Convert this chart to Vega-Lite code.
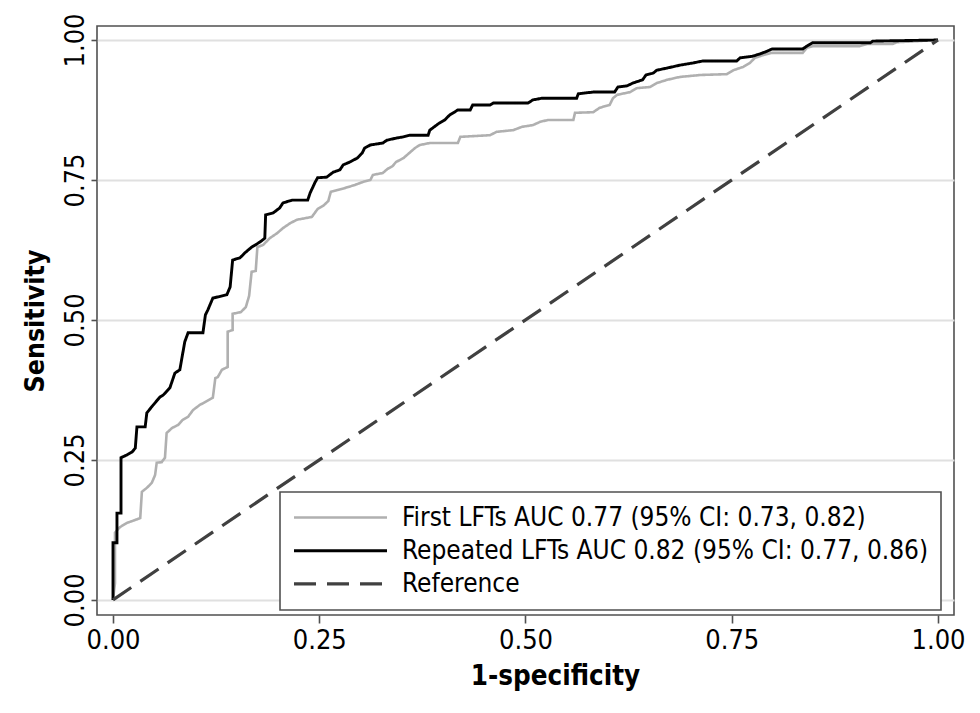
{
  "$schema": "https://vega.github.io/schema/vega-lite/v6.json",
  "width": 857,
  "height": 589,
  "autosize": {"type": "none"},
  "padding": {"left": 97, "top": 26, "right": 26, "bottom": 98},
  "background": "white",
  "config": {
    "view": {"stroke": "#505050", "strokeWidth": 1.6},
    "font": "DejaVu Sans Condensed",
    "axis": {
      "domain": false,
      "labelFont": "DejaVu Sans Condensed",
      "labelFontSize": 27,
      "labelColor": "#000000",
      "titleFont": "DejaVu Sans Condensed",
      "titleFontWeight": "bold",
      "titleColor": "#000000",
      "tickColor": "#505050",
      "tickWidth": 1.6
    }
  },
  "data": {
    "values": [
      {"series": "First LFTs AUC 0.77 (95% CI: 0.73, 0.82)", "x": 0, "y": 0},
      {"series": "First LFTs AUC 0.77 (95% CI: 0.73, 0.82)", "x": 0.0024, "y": 0.03},
      {"series": "First LFTs AUC 0.77 (95% CI: 0.73, 0.82)", "x": 0.0024, "y": 0.12},
      {"series": "First LFTs AUC 0.77 (95% CI: 0.73, 0.82)", "x": 0.0085, "y": 0.13},
      {"series": "First LFTs AUC 0.77 (95% CI: 0.73, 0.82)", "x": 0.017, "y": 0.1375},
      {"series": "First LFTs AUC 0.77 (95% CI: 0.73, 0.82)", "x": 0.033, "y": 0.146},
      {"series": "First LFTs AUC 0.77 (95% CI: 0.73, 0.82)", "x": 0.035, "y": 0.193},
      {"series": "First LFTs AUC 0.77 (95% CI: 0.73, 0.82)", "x": 0.041, "y": 0.2},
      {"series": "First LFTs AUC 0.77 (95% CI: 0.73, 0.82)", "x": 0.047, "y": 0.209},
      {"series": "First LFTs AUC 0.77 (95% CI: 0.73, 0.82)", "x": 0.051, "y": 0.223},
      {"series": "First LFTs AUC 0.77 (95% CI: 0.73, 0.82)", "x": 0.053, "y": 0.245},
      {"series": "First LFTs AUC 0.77 (95% CI: 0.73, 0.82)", "x": 0.059, "y": 0.246},
      {"series": "First LFTs AUC 0.77 (95% CI: 0.73, 0.82)", "x": 0.063, "y": 0.254},
      {"series": "First LFTs AUC 0.77 (95% CI: 0.73, 0.82)", "x": 0.065, "y": 0.298},
      {"series": "First LFTs AUC 0.77 (95% CI: 0.73, 0.82)", "x": 0.0715, "y": 0.307},
      {"series": "First LFTs AUC 0.77 (95% CI: 0.73, 0.82)", "x": 0.079, "y": 0.3125},
      {"series": "First LFTs AUC 0.77 (95% CI: 0.73, 0.82)", "x": 0.084, "y": 0.321},
      {"series": "First LFTs AUC 0.77 (95% CI: 0.73, 0.82)", "x": 0.091, "y": 0.327},
      {"series": "First LFTs AUC 0.77 (95% CI: 0.73, 0.82)", "x": 0.097, "y": 0.339},
      {"series": "First LFTs AUC 0.77 (95% CI: 0.73, 0.82)", "x": 0.105, "y": 0.348},
      {"series": "First LFTs AUC 0.77 (95% CI: 0.73, 0.82)", "x": 0.121, "y": 0.361},
      {"series": "First LFTs AUC 0.77 (95% CI: 0.73, 0.82)", "x": 0.124, "y": 0.396},
      {"series": "First LFTs AUC 0.77 (95% CI: 0.73, 0.82)", "x": 0.127, "y": 0.398},
      {"series": "First LFTs AUC 0.77 (95% CI: 0.73, 0.82)", "x": 0.132, "y": 0.411},
      {"series": "First LFTs AUC 0.77 (95% CI: 0.73, 0.82)", "x": 0.139, "y": 0.416},
      {"series": "First LFTs AUC 0.77 (95% CI: 0.73, 0.82)", "x": 0.139, "y": 0.479},
      {"series": "First LFTs AUC 0.77 (95% CI: 0.73, 0.82)", "x": 0.145, "y": 0.482},
      {"series": "First LFTs AUC 0.77 (95% CI: 0.73, 0.82)", "x": 0.145, "y": 0.511},
      {"series": "First LFTs AUC 0.77 (95% CI: 0.73, 0.82)", "x": 0.155, "y": 0.514},
      {"series": "First LFTs AUC 0.77 (95% CI: 0.73, 0.82)", "x": 0.161, "y": 0.523},
      {"series": "First LFTs AUC 0.77 (95% CI: 0.73, 0.82)", "x": 0.165, "y": 0.543},
      {"series": "First LFTs AUC 0.77 (95% CI: 0.73, 0.82)", "x": 0.168, "y": 0.586},
      {"series": "First LFTs AUC 0.77 (95% CI: 0.73, 0.82)", "x": 0.173, "y": 0.5875},
      {"series": "First LFTs AUC 0.77 (95% CI: 0.73, 0.82)", "x": 0.175, "y": 0.63},
      {"series": "First LFTs AUC 0.77 (95% CI: 0.73, 0.82)", "x": 0.182, "y": 0.634},
      {"series": "First LFTs AUC 0.77 (95% CI: 0.73, 0.82)", "x": 0.19, "y": 0.646},
      {"series": "First LFTs AUC 0.77 (95% CI: 0.73, 0.82)", "x": 0.199, "y": 0.655},
      {"series": "First LFTs AUC 0.77 (95% CI: 0.73, 0.82)", "x": 0.206, "y": 0.664},
      {"series": "First LFTs AUC 0.77 (95% CI: 0.73, 0.82)", "x": 0.215, "y": 0.673},
      {"series": "First LFTs AUC 0.77 (95% CI: 0.73, 0.82)", "x": 0.223, "y": 0.679},
      {"series": "First LFTs AUC 0.77 (95% CI: 0.73, 0.82)", "x": 0.241, "y": 0.684},
      {"series": "First LFTs AUC 0.77 (95% CI: 0.73, 0.82)", "x": 0.248, "y": 0.698},
      {"series": "First LFTs AUC 0.77 (95% CI: 0.73, 0.82)", "x": 0.255, "y": 0.704},
      {"series": "First LFTs AUC 0.77 (95% CI: 0.73, 0.82)", "x": 0.261, "y": 0.7125},
      {"series": "First LFTs AUC 0.77 (95% CI: 0.73, 0.82)", "x": 0.264, "y": 0.729},
      {"series": "First LFTs AUC 0.77 (95% CI: 0.73, 0.82)", "x": 0.272, "y": 0.732},
      {"series": "First LFTs AUC 0.77 (95% CI: 0.73, 0.82)", "x": 0.282, "y": 0.736},
      {"series": "First LFTs AUC 0.77 (95% CI: 0.73, 0.82)", "x": 0.293, "y": 0.741},
      {"series": "First LFTs AUC 0.77 (95% CI: 0.73, 0.82)", "x": 0.302, "y": 0.746},
      {"series": "First LFTs AUC 0.77 (95% CI: 0.73, 0.82)", "x": 0.312, "y": 0.75},
      {"series": "First LFTs AUC 0.77 (95% CI: 0.73, 0.82)", "x": 0.315, "y": 0.759},
      {"series": "First LFTs AUC 0.77 (95% CI: 0.73, 0.82)", "x": 0.327, "y": 0.7625},
      {"series": "First LFTs AUC 0.77 (95% CI: 0.73, 0.82)", "x": 0.333, "y": 0.77},
      {"series": "First LFTs AUC 0.77 (95% CI: 0.73, 0.82)", "x": 0.339, "y": 0.775},
      {"series": "First LFTs AUC 0.77 (95% CI: 0.73, 0.82)", "x": 0.343, "y": 0.782},
      {"series": "First LFTs AUC 0.77 (95% CI: 0.73, 0.82)", "x": 0.352, "y": 0.789},
      {"series": "First LFTs AUC 0.77 (95% CI: 0.73, 0.82)", "x": 0.359, "y": 0.798},
      {"series": "First LFTs AUC 0.77 (95% CI: 0.73, 0.82)", "x": 0.366, "y": 0.807},
      {"series": "First LFTs AUC 0.77 (95% CI: 0.73, 0.82)", "x": 0.372, "y": 0.8125},
      {"series": "First LFTs AUC 0.77 (95% CI: 0.73, 0.82)", "x": 0.384, "y": 0.816},
      {"series": "First LFTs AUC 0.77 (95% CI: 0.73, 0.82)", "x": 0.418, "y": 0.816},
      {"series": "First LFTs AUC 0.77 (95% CI: 0.73, 0.82)", "x": 0.421, "y": 0.827},
      {"series": "First LFTs AUC 0.77 (95% CI: 0.73, 0.82)", "x": 0.457, "y": 0.83},
      {"series": "First LFTs AUC 0.77 (95% CI: 0.73, 0.82)", "x": 0.465, "y": 0.836},
      {"series": "First LFTs AUC 0.77 (95% CI: 0.73, 0.82)", "x": 0.485, "y": 0.839},
      {"series": "First LFTs AUC 0.77 (95% CI: 0.73, 0.82)", "x": 0.496, "y": 0.845},
      {"series": "First LFTs AUC 0.77 (95% CI: 0.73, 0.82)", "x": 0.509, "y": 0.848},
      {"series": "First LFTs AUC 0.77 (95% CI: 0.73, 0.82)", "x": 0.518, "y": 0.854},
      {"series": "First LFTs AUC 0.77 (95% CI: 0.73, 0.82)", "x": 0.527, "y": 0.857},
      {"series": "First LFTs AUC 0.77 (95% CI: 0.73, 0.82)", "x": 0.558, "y": 0.857},
      {"series": "First LFTs AUC 0.77 (95% CI: 0.73, 0.82)", "x": 0.56, "y": 0.87},
      {"series": "First LFTs AUC 0.77 (95% CI: 0.73, 0.82)", "x": 0.582, "y": 0.871},
      {"series": "First LFTs AUC 0.77 (95% CI: 0.73, 0.82)", "x": 0.59, "y": 0.879},
      {"series": "First LFTs AUC 0.77 (95% CI: 0.73, 0.82)", "x": 0.602, "y": 0.884},
      {"series": "First LFTs AUC 0.77 (95% CI: 0.73, 0.82)", "x": 0.606, "y": 0.896},
      {"series": "First LFTs AUC 0.77 (95% CI: 0.73, 0.82)", "x": 0.611, "y": 0.902},
      {"series": "First LFTs AUC 0.77 (95% CI: 0.73, 0.82)", "x": 0.627, "y": 0.907},
      {"series": "First LFTs AUC 0.77 (95% CI: 0.73, 0.82)", "x": 0.635, "y": 0.914},
      {"series": "First LFTs AUC 0.77 (95% CI: 0.73, 0.82)", "x": 0.651, "y": 0.916},
      {"series": "First LFTs AUC 0.77 (95% CI: 0.73, 0.82)", "x": 0.659, "y": 0.923},
      {"series": "First LFTs AUC 0.77 (95% CI: 0.73, 0.82)", "x": 0.672, "y": 0.929},
      {"series": "First LFTs AUC 0.77 (95% CI: 0.73, 0.82)", "x": 0.687, "y": 0.934},
      {"series": "First LFTs AUC 0.77 (95% CI: 0.73, 0.82)", "x": 0.712, "y": 0.9375},
      {"series": "First LFTs AUC 0.77 (95% CI: 0.73, 0.82)", "x": 0.744, "y": 0.939},
      {"series": "First LFTs AUC 0.77 (95% CI: 0.73, 0.82)", "x": 0.752, "y": 0.946},
      {"series": "First LFTs AUC 0.77 (95% CI: 0.73, 0.82)", "x": 0.764, "y": 0.952},
      {"series": "First LFTs AUC 0.77 (95% CI: 0.73, 0.82)", "x": 0.772, "y": 0.959},
      {"series": "First LFTs AUC 0.77 (95% CI: 0.73, 0.82)", "x": 0.778, "y": 0.968},
      {"series": "First LFTs AUC 0.77 (95% CI: 0.73, 0.82)", "x": 0.788, "y": 0.973},
      {"series": "First LFTs AUC 0.77 (95% CI: 0.73, 0.82)", "x": 0.799, "y": 0.977},
      {"series": "First LFTs AUC 0.77 (95% CI: 0.73, 0.82)", "x": 0.836, "y": 0.977},
      {"series": "First LFTs AUC 0.77 (95% CI: 0.73, 0.82)", "x": 0.841, "y": 0.986},
      {"series": "First LFTs AUC 0.77 (95% CI: 0.73, 0.82)", "x": 0.848, "y": 0.989},
      {"series": "First LFTs AUC 0.77 (95% CI: 0.73, 0.82)", "x": 0.905, "y": 0.989},
      {"series": "First LFTs AUC 0.77 (95% CI: 0.73, 0.82)", "x": 0.914, "y": 0.993},
      {"series": "First LFTs AUC 0.77 (95% CI: 0.73, 0.82)", "x": 0.945, "y": 0.993},
      {"series": "First LFTs AUC 0.77 (95% CI: 0.73, 0.82)", "x": 0.95, "y": 0.996},
      {"series": "First LFTs AUC 0.77 (95% CI: 0.73, 0.82)", "x": 1, "y": 1},
      {"series": "Repeated LFTs AUC 0.82 (95% CI: 0.77, 0.86)", "x": 0, "y": 0},
      {"series": "Repeated LFTs AUC 0.82 (95% CI: 0.77, 0.86)", "x": 0, "y": 0.102},
      {"series": "Repeated LFTs AUC 0.82 (95% CI: 0.77, 0.86)", "x": 0.0048, "y": 0.102},
      {"series": "Repeated LFTs AUC 0.82 (95% CI: 0.77, 0.86)", "x": 0.0048, "y": 0.155},
      {"series": "Repeated LFTs AUC 0.82 (95% CI: 0.77, 0.86)", "x": 0.0097, "y": 0.155},
      {"series": "Repeated LFTs AUC 0.82 (95% CI: 0.77, 0.86)", "x": 0.0097, "y": 0.254},
      {"series": "Repeated LFTs AUC 0.82 (95% CI: 0.77, 0.86)", "x": 0.017, "y": 0.259},
      {"series": "Repeated LFTs AUC 0.82 (95% CI: 0.77, 0.86)", "x": 0.023, "y": 0.264},
      {"series": "Repeated LFTs AUC 0.82 (95% CI: 0.77, 0.86)", "x": 0.027, "y": 0.271},
      {"series": "Repeated LFTs AUC 0.82 (95% CI: 0.77, 0.86)", "x": 0.029, "y": 0.309},
      {"series": "Repeated LFTs AUC 0.82 (95% CI: 0.77, 0.86)", "x": 0.039, "y": 0.309},
      {"series": "Repeated LFTs AUC 0.82 (95% CI: 0.77, 0.86)", "x": 0.041, "y": 0.334},
      {"series": "Repeated LFTs AUC 0.82 (95% CI: 0.77, 0.86)", "x": 0.047, "y": 0.345},
      {"series": "Repeated LFTs AUC 0.82 (95% CI: 0.77, 0.86)", "x": 0.057, "y": 0.3625},
      {"series": "Repeated LFTs AUC 0.82 (95% CI: 0.77, 0.86)", "x": 0.061, "y": 0.366},
      {"series": "Repeated LFTs AUC 0.82 (95% CI: 0.77, 0.86)", "x": 0.069, "y": 0.379},
      {"series": "Repeated LFTs AUC 0.82 (95% CI: 0.77, 0.86)", "x": 0.075, "y": 0.405},
      {"series": "Repeated LFTs AUC 0.82 (95% CI: 0.77, 0.86)", "x": 0.081, "y": 0.411},
      {"series": "Repeated LFTs AUC 0.82 (95% CI: 0.77, 0.86)", "x": 0.087, "y": 0.461},
      {"series": "Repeated LFTs AUC 0.82 (95% CI: 0.77, 0.86)", "x": 0.091, "y": 0.477},
      {"series": "Repeated LFTs AUC 0.82 (95% CI: 0.77, 0.86)", "x": 0.109, "y": 0.477},
      {"series": "Repeated LFTs AUC 0.82 (95% CI: 0.77, 0.86)", "x": 0.112, "y": 0.509},
      {"series": "Repeated LFTs AUC 0.82 (95% CI: 0.77, 0.86)", "x": 0.115, "y": 0.518},
      {"series": "Repeated LFTs AUC 0.82 (95% CI: 0.77, 0.86)", "x": 0.121, "y": 0.539},
      {"series": "Repeated LFTs AUC 0.82 (95% CI: 0.77, 0.86)", "x": 0.138, "y": 0.545},
      {"series": "Repeated LFTs AUC 0.82 (95% CI: 0.77, 0.86)", "x": 0.142, "y": 0.559},
      {"series": "Repeated LFTs AUC 0.82 (95% CI: 0.77, 0.86)", "x": 0.145, "y": 0.607},
      {"series": "Repeated LFTs AUC 0.82 (95% CI: 0.77, 0.86)", "x": 0.154, "y": 0.611},
      {"series": "Repeated LFTs AUC 0.82 (95% CI: 0.77, 0.86)", "x": 0.16, "y": 0.62},
      {"series": "Repeated LFTs AUC 0.82 (95% CI: 0.77, 0.86)", "x": 0.168, "y": 0.63},
      {"series": "Repeated LFTs AUC 0.82 (95% CI: 0.77, 0.86)", "x": 0.178, "y": 0.639},
      {"series": "Repeated LFTs AUC 0.82 (95% CI: 0.77, 0.86)", "x": 0.184, "y": 0.646},
      {"series": "Repeated LFTs AUC 0.82 (95% CI: 0.77, 0.86)", "x": 0.185, "y": 0.6875},
      {"series": "Repeated LFTs AUC 0.82 (95% CI: 0.77, 0.86)", "x": 0.194, "y": 0.691},
      {"series": "Repeated LFTs AUC 0.82 (95% CI: 0.77, 0.86)", "x": 0.202, "y": 0.7},
      {"series": "Repeated LFTs AUC 0.82 (95% CI: 0.77, 0.86)", "x": 0.206, "y": 0.709},
      {"series": "Repeated LFTs AUC 0.82 (95% CI: 0.77, 0.86)", "x": 0.217, "y": 0.714},
      {"series": "Repeated LFTs AUC 0.82 (95% CI: 0.77, 0.86)", "x": 0.236, "y": 0.714},
      {"series": "Repeated LFTs AUC 0.82 (95% CI: 0.77, 0.86)", "x": 0.239, "y": 0.727},
      {"series": "Repeated LFTs AUC 0.82 (95% CI: 0.77, 0.86)", "x": 0.245, "y": 0.746},
      {"series": "Repeated LFTs AUC 0.82 (95% CI: 0.77, 0.86)", "x": 0.248, "y": 0.754},
      {"series": "Repeated LFTs AUC 0.82 (95% CI: 0.77, 0.86)", "x": 0.259, "y": 0.755},
      {"series": "Repeated LFTs AUC 0.82 (95% CI: 0.77, 0.86)", "x": 0.267, "y": 0.764},
      {"series": "Repeated LFTs AUC 0.82 (95% CI: 0.77, 0.86)", "x": 0.275, "y": 0.768},
      {"series": "Repeated LFTs AUC 0.82 (95% CI: 0.77, 0.86)", "x": 0.279, "y": 0.777},
      {"series": "Repeated LFTs AUC 0.82 (95% CI: 0.77, 0.86)", "x": 0.287, "y": 0.782},
      {"series": "Repeated LFTs AUC 0.82 (95% CI: 0.77, 0.86)", "x": 0.296, "y": 0.789},
      {"series": "Repeated LFTs AUC 0.82 (95% CI: 0.77, 0.86)", "x": 0.302, "y": 0.798},
      {"series": "Repeated LFTs AUC 0.82 (95% CI: 0.77, 0.86)", "x": 0.305, "y": 0.807},
      {"series": "Repeated LFTs AUC 0.82 (95% CI: 0.77, 0.86)", "x": 0.312, "y": 0.8125},
      {"series": "Repeated LFTs AUC 0.82 (95% CI: 0.77, 0.86)", "x": 0.327, "y": 0.816},
      {"series": "Repeated LFTs AUC 0.82 (95% CI: 0.77, 0.86)", "x": 0.332, "y": 0.821},
      {"series": "Repeated LFTs AUC 0.82 (95% CI: 0.77, 0.86)", "x": 0.344, "y": 0.825},
      {"series": "Repeated LFTs AUC 0.82 (95% CI: 0.77, 0.86)", "x": 0.352, "y": 0.827},
      {"series": "Repeated LFTs AUC 0.82 (95% CI: 0.77, 0.86)", "x": 0.36, "y": 0.83},
      {"series": "Repeated LFTs AUC 0.82 (95% CI: 0.77, 0.86)", "x": 0.382, "y": 0.83},
      {"series": "Repeated LFTs AUC 0.82 (95% CI: 0.77, 0.86)", "x": 0.384, "y": 0.839},
      {"series": "Repeated LFTs AUC 0.82 (95% CI: 0.77, 0.86)", "x": 0.394, "y": 0.85},
      {"series": "Repeated LFTs AUC 0.82 (95% CI: 0.77, 0.86)", "x": 0.402, "y": 0.857},
      {"series": "Repeated LFTs AUC 0.82 (95% CI: 0.77, 0.86)", "x": 0.408, "y": 0.866},
      {"series": "Repeated LFTs AUC 0.82 (95% CI: 0.77, 0.86)", "x": 0.418, "y": 0.875},
      {"series": "Repeated LFTs AUC 0.82 (95% CI: 0.77, 0.86)", "x": 0.433, "y": 0.875},
      {"series": "Repeated LFTs AUC 0.82 (95% CI: 0.77, 0.86)", "x": 0.436, "y": 0.884},
      {"series": "Repeated LFTs AUC 0.82 (95% CI: 0.77, 0.86)", "x": 0.457, "y": 0.884},
      {"series": "Repeated LFTs AUC 0.82 (95% CI: 0.77, 0.86)", "x": 0.461, "y": 0.8875},
      {"series": "Repeated LFTs AUC 0.82 (95% CI: 0.77, 0.86)", "x": 0.503, "y": 0.8875},
      {"series": "Repeated LFTs AUC 0.82 (95% CI: 0.77, 0.86)", "x": 0.509, "y": 0.893},
      {"series": "Repeated LFTs AUC 0.82 (95% CI: 0.77, 0.86)", "x": 0.52, "y": 0.896},
      {"series": "Repeated LFTs AUC 0.82 (95% CI: 0.77, 0.86)", "x": 0.562, "y": 0.896},
      {"series": "Repeated LFTs AUC 0.82 (95% CI: 0.77, 0.86)", "x": 0.564, "y": 0.904},
      {"series": "Repeated LFTs AUC 0.82 (95% CI: 0.77, 0.86)", "x": 0.582, "y": 0.907},
      {"series": "Repeated LFTs AUC 0.82 (95% CI: 0.77, 0.86)", "x": 0.608, "y": 0.907},
      {"series": "Repeated LFTs AUC 0.82 (95% CI: 0.77, 0.86)", "x": 0.612, "y": 0.916},
      {"series": "Repeated LFTs AUC 0.82 (95% CI: 0.77, 0.86)", "x": 0.623, "y": 0.918},
      {"series": "Repeated LFTs AUC 0.82 (95% CI: 0.77, 0.86)", "x": 0.63, "y": 0.923},
      {"series": "Repeated LFTs AUC 0.82 (95% CI: 0.77, 0.86)", "x": 0.642, "y": 0.929},
      {"series": "Repeated LFTs AUC 0.82 (95% CI: 0.77, 0.86)", "x": 0.646, "y": 0.9375},
      {"series": "Repeated LFTs AUC 0.82 (95% CI: 0.77, 0.86)", "x": 0.655, "y": 0.941},
      {"series": "Repeated LFTs AUC 0.82 (95% CI: 0.77, 0.86)", "x": 0.659, "y": 0.946},
      {"series": "Repeated LFTs AUC 0.82 (95% CI: 0.77, 0.86)", "x": 0.672, "y": 0.95},
      {"series": "Repeated LFTs AUC 0.82 (95% CI: 0.77, 0.86)", "x": 0.687, "y": 0.955},
      {"series": "Repeated LFTs AUC 0.82 (95% CI: 0.77, 0.86)", "x": 0.703, "y": 0.959},
      {"series": "Repeated LFTs AUC 0.82 (95% CI: 0.77, 0.86)", "x": 0.715, "y": 0.9625},
      {"series": "Repeated LFTs AUC 0.82 (95% CI: 0.77, 0.86)", "x": 0.756, "y": 0.9625},
      {"series": "Repeated LFTs AUC 0.82 (95% CI: 0.77, 0.86)", "x": 0.76, "y": 0.968},
      {"series": "Repeated LFTs AUC 0.82 (95% CI: 0.77, 0.86)", "x": 0.775, "y": 0.971},
      {"series": "Repeated LFTs AUC 0.82 (95% CI: 0.77, 0.86)", "x": 0.784, "y": 0.975},
      {"series": "Repeated LFTs AUC 0.82 (95% CI: 0.77, 0.86)", "x": 0.793, "y": 0.98},
      {"series": "Repeated LFTs AUC 0.82 (95% CI: 0.77, 0.86)", "x": 0.799, "y": 0.984},
      {"series": "Repeated LFTs AUC 0.82 (95% CI: 0.77, 0.86)", "x": 0.836, "y": 0.984},
      {"series": "Repeated LFTs AUC 0.82 (95% CI: 0.77, 0.86)", "x": 0.841, "y": 0.989},
      {"series": "Repeated LFTs AUC 0.82 (95% CI: 0.77, 0.86)", "x": 0.848, "y": 0.995},
      {"series": "Repeated LFTs AUC 0.82 (95% CI: 0.77, 0.86)", "x": 0.918, "y": 0.995},
      {"series": "Repeated LFTs AUC 0.82 (95% CI: 0.77, 0.86)", "x": 0.921, "y": 0.998},
      {"series": "Repeated LFTs AUC 0.82 (95% CI: 0.77, 0.86)", "x": 1, "y": 1},
      {"series": "Reference", "x": 0, "y": 0},
      {"series": "Reference", "x": 1, "y": 1}
    ]
  },
  "mark": {"type": "line", "strokeCap": "butt", "strokeJoin": "miter"},
  "encoding": {
    "x": {
      "field": "x",
      "type": "quantitative",
      "scale": {"domain": [-0.0194, 1.0194], "nice": false, "zero": false},
      "axis": {
        "values": [0, 0.25, 0.5, 0.75, 1],
        "format": ".2f",
        "grid": false,
        "tickSize": 8,
        "labelPadding": 4,
        "title": "1-specificity",
        "titleFontSize": 27.5,
        "titleX": 458,
        "titleAlign": "center",
        "titlePadding": 9
      }
    },
    "y": {
      "field": "y",
      "type": "quantitative",
      "scale": {"domain": [-0.027, 1.025], "nice": false, "zero": false},
      "axis": {
        "values": [0, 0.25, 0.5, 0.75, 1],
        "format": ".2f",
        "grid": true,
        "gridColor": "#e0e0e0",
        "gridWidth": 2,
        "tickSize": 6,
        "labelAngle": -90,
        "labelAlign": "center",
        "labelBaseline": "bottom",
        "labelPadding": 2,
        "title": "Sensitivity",
        "titleFontSize": 26.5,
        "titlePadding": 12
      }
    },
    "order": {"value": null},
    "stroke": {
      "field": "series",
      "type": "nominal",
      "scale": {
        "domain": ["First LFTs AUC 0.77 (95% CI: 0.73, 0.82)", "Repeated LFTs AUC 0.82 (95% CI: 0.77, 0.86)", "Reference"],
        "range": ["#b0b0b0", "#000000", "#404040"]
      },
      "legend": {
        "title": null,
        "orient": "none",
        "legendX": 183,
        "legendY": 466,
        "direction": "vertical",
        "symbolType": "stroke",
        "symbolSize": 8649,
        "symbolStrokeWidth": 2.6,
        "clipHeight": 27,
        "rowPadding": 6.2,
        "labelOffset": 13,
        "labelFont": "DejaVu Sans Condensed",
        "labelFontSize": 26,
        "labelColor": "#000000",
        "labelLimit": 800,
        "labelExpr": "datum.label + ' '",
        "padding": 12,
        "strokeColor": "#505050",
        "fillColor": "#ffffff",
        "encode": {"legend": {"update": {"strokeWidth": {"value": 1.6}}}}
      }
    },
    "strokeDash": {
      "field": "series",
      "type": "nominal",
      "scale": {
        "domain": ["First LFTs AUC 0.77 (95% CI: 0.73, 0.82)", "Repeated LFTs AUC 0.82 (95% CI: 0.77, 0.86)", "Reference"],
        "range": [[1, 0], [1, 0], [22, 11]]
      },
      "legend": {
        "title": null,
        "orient": "none",
        "legendX": 183,
        "legendY": 466,
        "direction": "vertical",
        "symbolType": "stroke",
        "symbolSize": 8649,
        "symbolStrokeWidth": 2.6,
        "clipHeight": 27,
        "rowPadding": 6.2,
        "labelOffset": 13,
        "labelFont": "DejaVu Sans Condensed",
        "labelFontSize": 26,
        "labelColor": "#000000",
        "labelLimit": 800,
        "labelExpr": "datum.label + ' '",
        "padding": 12,
        "strokeColor": "#505050",
        "fillColor": "#ffffff",
        "encode": {"legend": {"update": {"strokeWidth": {"value": 1.6}}}}
      }
    },
    "strokeWidth": {
      "field": "series",
      "type": "nominal",
      "scale": {
        "domain": ["First LFTs AUC 0.77 (95% CI: 0.73, 0.82)", "Repeated LFTs AUC 0.82 (95% CI: 0.77, 0.86)", "Reference"],
        "range": [2.6, 3.2, 2]
      },
      "legend": null
    }
  }
}
